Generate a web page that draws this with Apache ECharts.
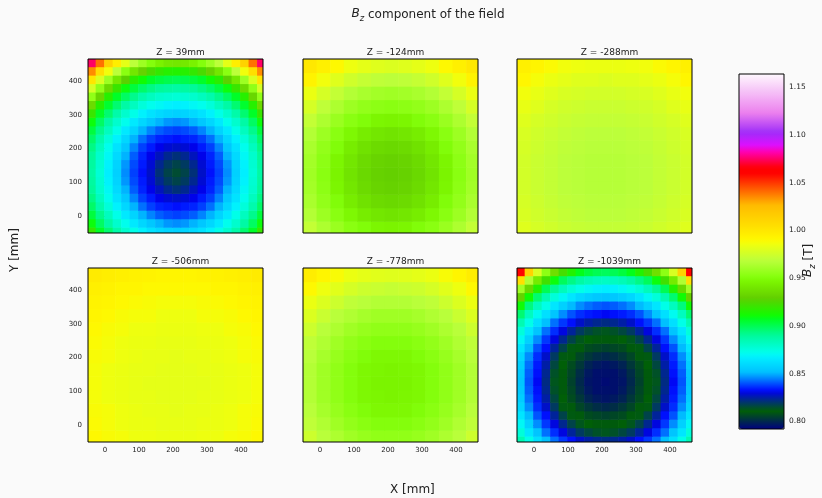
<!DOCTYPE html>
<html><head><meta charset="utf-8">
<script src="https://cdn.jsdelivr.net/npm/echarts@6/dist/echarts.min.js"></script>
<style>html,body{margin:0;padding:0;background:#fafafa}#c{width:822px;height:498px}</style>
</head><body><div id="c"></div>
<script>
// ---- data ----
const panelTitles = ['Z = 39mm', 'Z = -124mm', 'Z = -288mm', 'Z = -506mm', 'Z = -778mm', 'Z = -1039mm'];
// coarse sample grid (mm) used for the nearly uniform maps
const xCoarse = [-30, 10, 50, 90, 130, 170, 210, 250, 290, 330, 370, 410, 450];
const yCoarse = [-35, 5, 45, 85, 125, 165, 205, 245, 285, 325, 365, 405, 445];
// fine sample grid (mm) used for the strongly varying maps
const xFine = [-40, -15, 10, 35, 60, 85, 110, 135, 160, 185, 210, 235, 260, 285, 310, 335, 360, 385, 410, 435, 460];
const yFine = [-45, -20, 5, 30, 55, 80, 105, 130, 155, 180, 205, 230, 255, 280, 305, 330, 355, 380, 405, 430, 455];
const axisTicks = [0, 100, 200, 300, 400];
const colorbarTicks = [0.80, 0.85, 0.90, 0.95, 1.00, 1.05, 1.10, 1.15];
const bzMin = 0.792, bzMax = 1.164;

// rows from bottom to top, Bz in tesla
const bzZ39 = [
[0.920,0.906,0.896,0.887,0.879,0.873,0.868,0.863,0.860,0.858,0.857,0.858,0.860,0.863,0.868,0.873,0.879,0.887,0.896,0.906,0.920],
[0.910,0.898,0.888,0.879,0.872,0.865,0.859,0.854,0.850,0.847,0.846,0.847,0.850,0.854,0.859,0.865,0.872,0.879,0.888,0.898,0.910],
[0.903,0.892,0.882,0.873,0.865,0.858,0.850,0.845,0.841,0.839,0.838,0.839,0.841,0.845,0.850,0.858,0.865,0.873,0.882,0.892,0.903],
[0.897,0.886,0.876,0.868,0.859,0.850,0.843,0.838,0.835,0.834,0.833,0.834,0.835,0.838,0.843,0.850,0.859,0.868,0.876,0.886,0.897],
[0.893,0.882,0.872,0.863,0.854,0.845,0.838,0.834,0.831,0.829,0.828,0.829,0.831,0.834,0.838,0.845,0.854,0.863,0.872,0.882,0.893],
[0.890,0.879,0.870,0.860,0.850,0.841,0.835,0.831,0.827,0.823,0.821,0.823,0.827,0.831,0.835,0.841,0.850,0.860,0.870,0.879,0.890],
[0.889,0.878,0.868,0.858,0.847,0.839,0.834,0.829,0.823,0.819,0.817,0.819,0.823,0.829,0.834,0.839,0.847,0.858,0.868,0.878,0.889],
[0.888,0.877,0.867,0.857,0.846,0.838,0.833,0.828,0.821,0.817,0.815,0.817,0.821,0.828,0.833,0.838,0.846,0.857,0.867,0.877,0.888],
[0.889,0.878,0.868,0.858,0.847,0.839,0.834,0.829,0.823,0.819,0.817,0.819,0.823,0.829,0.834,0.839,0.847,0.858,0.868,0.878,0.889],
[0.890,0.879,0.870,0.860,0.850,0.841,0.835,0.831,0.827,0.823,0.821,0.823,0.827,0.831,0.835,0.841,0.850,0.860,0.870,0.879,0.890],
[0.893,0.882,0.872,0.863,0.854,0.845,0.838,0.834,0.831,0.829,0.828,0.829,0.831,0.834,0.838,0.845,0.854,0.863,0.872,0.882,0.893],
[0.897,0.886,0.876,0.868,0.859,0.850,0.843,0.838,0.835,0.834,0.833,0.834,0.835,0.838,0.843,0.850,0.859,0.868,0.876,0.886,0.897],
[0.903,0.892,0.882,0.873,0.865,0.858,0.850,0.845,0.841,0.839,0.838,0.839,0.841,0.845,0.850,0.858,0.865,0.873,0.882,0.892,0.903],
[0.910,0.898,0.888,0.879,0.872,0.865,0.859,0.854,0.850,0.847,0.846,0.847,0.850,0.854,0.859,0.865,0.872,0.879,0.888,0.898,0.910],
[0.920,0.906,0.896,0.887,0.879,0.873,0.868,0.863,0.860,0.858,0.857,0.858,0.860,0.863,0.868,0.873,0.879,0.887,0.896,0.906,0.920],
[0.935,0.916,0.905,0.896,0.888,0.882,0.876,0.872,0.870,0.868,0.867,0.868,0.870,0.872,0.876,0.882,0.888,0.896,0.905,0.916,0.935],
[0.955,0.933,0.916,0.906,0.898,0.892,0.886,0.882,0.879,0.878,0.877,0.878,0.879,0.882,0.886,0.892,0.898,0.906,0.916,0.933,0.955],
[0.977,0.955,0.935,0.920,0.910,0.903,0.897,0.893,0.890,0.889,0.888,0.889,0.890,0.893,0.897,0.903,0.910,0.920,0.935,0.955,0.977],
[1.001,0.979,0.959,0.941,0.928,0.917,0.911,0.906,0.903,0.901,0.900,0.901,0.903,0.906,0.911,0.917,0.928,0.941,0.959,0.979,1.001],
[1.035,1.005,0.986,0.969,0.953,0.940,0.931,0.924,0.919,0.916,0.915,0.916,0.919,0.924,0.931,0.940,0.953,0.969,0.986,1.005,1.035],
[1.075,1.040,1.013,0.996,0.982,0.969,0.959,0.951,0.945,0.941,0.940,0.941,0.945,0.951,0.959,0.969,0.982,0.996,1.013,1.040,1.075]
];
const bzZm124 = [
[0.971,0.964,0.958,0.953,0.950,0.947,0.946,0.947,0.950,0.953,0.958,0.964,0.971],
[0.966,0.959,0.953,0.948,0.943,0.940,0.939,0.940,0.943,0.948,0.953,0.959,0.966],
[0.963,0.956,0.950,0.943,0.938,0.935,0.934,0.935,0.938,0.943,0.950,0.956,0.963],
[0.961,0.954,0.947,0.940,0.935,0.932,0.931,0.932,0.935,0.940,0.947,0.954,0.961],
[0.960,0.953,0.946,0.939,0.934,0.931,0.930,0.931,0.934,0.939,0.946,0.953,0.960],
[0.961,0.954,0.947,0.940,0.935,0.932,0.931,0.932,0.935,0.940,0.947,0.954,0.961],
[0.963,0.956,0.950,0.943,0.938,0.935,0.934,0.935,0.938,0.943,0.950,0.956,0.963],
[0.966,0.959,0.953,0.948,0.943,0.940,0.939,0.940,0.943,0.948,0.953,0.959,0.966],
[0.971,0.964,0.958,0.953,0.950,0.947,0.946,0.947,0.950,0.953,0.958,0.964,0.971],
[0.977,0.970,0.964,0.959,0.956,0.954,0.953,0.954,0.956,0.959,0.964,0.970,0.977],
[0.984,0.977,0.971,0.966,0.963,0.961,0.960,0.961,0.963,0.966,0.971,0.977,0.984],
[0.993,0.986,0.980,0.975,0.972,0.970,0.969,0.970,0.972,0.975,0.980,0.986,0.993],
[1.000,0.995,0.990,0.985,0.982,0.980,0.979,0.980,0.982,0.985,0.990,0.995,1.000]
];
const bzZm288 = [
[0.980,0.977,0.975,0.973,0.972,0.971,0.971,0.971,0.972,0.973,0.975,0.977,0.980],
[0.978,0.975,0.973,0.971,0.970,0.969,0.969,0.969,0.970,0.971,0.973,0.975,0.978],
[0.977,0.974,0.972,0.970,0.969,0.968,0.968,0.968,0.969,0.970,0.972,0.974,0.977],
[0.976,0.973,0.971,0.969,0.968,0.967,0.967,0.967,0.968,0.969,0.971,0.973,0.976],
[0.976,0.973,0.971,0.969,0.968,0.967,0.967,0.967,0.968,0.969,0.971,0.973,0.976],
[0.976,0.973,0.971,0.969,0.968,0.967,0.967,0.967,0.968,0.969,0.971,0.973,0.976],
[0.977,0.974,0.972,0.970,0.969,0.968,0.968,0.968,0.969,0.970,0.972,0.974,0.977],
[0.978,0.975,0.973,0.971,0.970,0.969,0.969,0.969,0.970,0.971,0.973,0.975,0.978],
[0.980,0.977,0.975,0.973,0.972,0.971,0.971,0.971,0.972,0.973,0.975,0.977,0.980],
[0.983,0.980,0.977,0.975,0.974,0.973,0.973,0.973,0.974,0.975,0.977,0.980,0.983],
[0.986,0.983,0.980,0.978,0.977,0.976,0.976,0.976,0.977,0.978,0.980,0.983,0.986],
[0.991,0.987,0.984,0.982,0.980,0.980,0.979,0.980,0.980,0.982,0.984,0.987,0.991],
[0.995,0.992,0.989,0.986,0.985,0.984,0.984,0.984,0.985,0.986,0.989,0.992,0.995]
];
const bzZm506 = [
[0.990,0.988,0.987,0.985,0.985,0.984,0.984,0.984,0.985,0.985,0.987,0.988,0.990],
[0.989,0.987,0.985,0.984,0.984,0.983,0.983,0.983,0.984,0.984,0.985,0.987,0.989],
[0.988,0.987,0.985,0.984,0.983,0.983,0.982,0.983,0.983,0.984,0.985,0.987,0.988],
[0.987,0.985,0.984,0.983,0.983,0.982,0.982,0.982,0.983,0.983,0.984,0.985,0.987],
[0.987,0.985,0.984,0.983,0.982,0.982,0.982,0.982,0.982,0.983,0.984,0.985,0.987],
[0.987,0.985,0.984,0.983,0.983,0.982,0.982,0.982,0.983,0.983,0.984,0.985,0.987],
[0.988,0.987,0.985,0.984,0.983,0.983,0.982,0.983,0.983,0.984,0.985,0.987,0.988],
[0.989,0.987,0.985,0.984,0.984,0.983,0.983,0.983,0.984,0.984,0.985,0.987,0.989],
[0.990,0.988,0.987,0.985,0.985,0.984,0.984,0.984,0.985,0.985,0.987,0.988,0.990],
[0.992,0.990,0.988,0.987,0.987,0.985,0.985,0.985,0.987,0.987,0.988,0.990,0.992],
[0.993,0.992,0.990,0.989,0.988,0.987,0.987,0.987,0.988,0.989,0.990,0.992,0.993],
[0.995,0.994,0.992,0.992,0.990,0.990,0.990,0.990,0.990,0.992,0.992,0.994,0.995],
[0.998,0.996,0.995,0.994,0.993,0.992,0.992,0.992,0.993,0.994,0.995,0.996,0.998]
];
const bzZm778 = [
[0.974,0.968,0.964,0.960,0.957,0.955,0.955,0.955,0.957,0.960,0.964,0.968,0.974],
[0.970,0.965,0.960,0.956,0.953,0.951,0.951,0.951,0.953,0.956,0.960,0.965,0.970],
[0.968,0.962,0.957,0.953,0.950,0.948,0.948,0.948,0.950,0.953,0.957,0.962,0.968],
[0.966,0.960,0.955,0.951,0.948,0.947,0.946,0.947,0.948,0.951,0.955,0.960,0.966],
[0.966,0.960,0.955,0.951,0.948,0.946,0.946,0.946,0.948,0.951,0.955,0.960,0.966],
[0.966,0.960,0.955,0.951,0.948,0.947,0.946,0.947,0.948,0.951,0.955,0.960,0.966],
[0.968,0.962,0.957,0.953,0.950,0.948,0.948,0.948,0.950,0.953,0.957,0.962,0.968],
[0.970,0.965,0.960,0.956,0.953,0.951,0.951,0.951,0.953,0.956,0.960,0.965,0.970],
[0.974,0.968,0.964,0.960,0.957,0.955,0.955,0.955,0.957,0.960,0.964,0.968,0.974],
[0.979,0.973,0.968,0.965,0.962,0.960,0.960,0.960,0.962,0.965,0.968,0.973,0.979],
[0.984,0.979,0.974,0.970,0.968,0.966,0.966,0.966,0.968,0.970,0.974,0.979,0.984],
[0.990,0.985,0.981,0.977,0.974,0.973,0.972,0.973,0.974,0.977,0.981,0.985,0.990],
[0.997,0.992,0.988,0.984,0.982,0.981,0.980,0.981,0.982,0.984,0.988,0.992,0.997]
];
const bzZm1039 = [
[0.885,0.873,0.862,0.852,0.843,0.837,0.833,0.828,0.825,0.823,0.822,0.823,0.825,0.828,0.833,0.837,0.843,0.852,0.862,0.873,0.885],
[0.876,0.864,0.853,0.843,0.836,0.830,0.824,0.819,0.816,0.814,0.813,0.814,0.816,0.819,0.824,0.830,0.836,0.843,0.853,0.864,0.876],
[0.870,0.857,0.846,0.837,0.830,0.823,0.817,0.813,0.811,0.810,0.810,0.810,0.811,0.813,0.817,0.823,0.830,0.837,0.846,0.857,0.870],
[0.864,0.851,0.840,0.833,0.824,0.817,0.812,0.810,0.807,0.806,0.805,0.806,0.807,0.810,0.812,0.817,0.824,0.833,0.840,0.851,0.864],
[0.859,0.846,0.836,0.828,0.819,0.812,0.810,0.806,0.803,0.801,0.800,0.801,0.803,0.806,0.810,0.812,0.819,0.828,0.836,0.846,0.859],
[0.856,0.843,0.834,0.825,0.816,0.811,0.807,0.803,0.799,0.797,0.796,0.797,0.799,0.803,0.807,0.811,0.816,0.825,0.834,0.843,0.856],
[0.854,0.841,0.833,0.823,0.814,0.810,0.806,0.801,0.797,0.795,0.795,0.795,0.797,0.801,0.806,0.810,0.814,0.823,0.833,0.841,0.854],
[0.853,0.840,0.832,0.822,0.813,0.810,0.805,0.800,0.796,0.795,0.794,0.795,0.796,0.800,0.805,0.810,0.813,0.822,0.832,0.840,0.853],
[0.854,0.841,0.833,0.823,0.814,0.810,0.806,0.801,0.797,0.795,0.795,0.795,0.797,0.801,0.806,0.810,0.814,0.823,0.833,0.841,0.854],
[0.856,0.843,0.834,0.825,0.816,0.811,0.807,0.803,0.799,0.797,0.796,0.797,0.799,0.803,0.807,0.811,0.816,0.825,0.834,0.843,0.856],
[0.859,0.846,0.836,0.828,0.819,0.812,0.810,0.806,0.803,0.801,0.800,0.801,0.803,0.806,0.810,0.812,0.819,0.828,0.836,0.846,0.859],
[0.864,0.851,0.840,0.833,0.824,0.817,0.812,0.810,0.807,0.806,0.805,0.806,0.807,0.810,0.812,0.817,0.824,0.833,0.840,0.851,0.864],
[0.870,0.857,0.846,0.837,0.830,0.823,0.817,0.813,0.811,0.810,0.810,0.810,0.811,0.813,0.817,0.823,0.830,0.837,0.846,0.857,0.870],
[0.876,0.864,0.853,0.843,0.836,0.830,0.824,0.819,0.816,0.814,0.813,0.814,0.816,0.819,0.824,0.830,0.836,0.843,0.853,0.864,0.876],
[0.885,0.873,0.862,0.852,0.843,0.837,0.833,0.828,0.825,0.823,0.822,0.823,0.825,0.828,0.833,0.837,0.843,0.852,0.862,0.873,0.885],
[0.896,0.882,0.871,0.862,0.853,0.846,0.840,0.836,0.834,0.833,0.832,0.833,0.834,0.836,0.840,0.846,0.853,0.862,0.871,0.882,0.896],
[0.911,0.894,0.882,0.873,0.864,0.857,0.851,0.846,0.843,0.841,0.840,0.841,0.843,0.846,0.851,0.857,0.864,0.873,0.882,0.894,0.911],
[0.931,0.911,0.896,0.885,0.876,0.870,0.864,0.859,0.856,0.854,0.853,0.854,0.856,0.859,0.864,0.870,0.876,0.885,0.896,0.911,0.931],
[0.960,0.934,0.915,0.900,0.891,0.883,0.877,0.873,0.870,0.868,0.867,0.868,0.870,0.873,0.877,0.883,0.891,0.900,0.915,0.934,0.960],
[1.005,0.965,0.942,0.922,0.910,0.899,0.893,0.888,0.884,0.882,0.881,0.882,0.884,0.888,0.893,0.899,0.910,0.922,0.942,0.965,1.005],
[1.060,1.013,0.978,0.954,0.937,0.923,0.915,0.908,0.903,0.900,0.899,0.900,0.903,0.908,0.915,0.923,0.937,0.954,0.978,1.013,1.060]
];
const panels = [bzZ39, bzZm124, bzZm288, bzZm506, bzZm778, bzZm1039];
const panelGridIsFine = [true, false, false, false, false, true];

// ---- colormap (gist_ncar-like) ----
const ncar = {
 r: [[0,0],[0.3098,0],[0.3725,0.3993],[0.4235,0.5003],[0.5333,1],[0.78,1],[0.835,0.6218],[0.89,0.9235],[1,0.9961]],
 g: [[0,0],[0.051,0.3722],[0.1059,0],[0.1569,0.7202],[0.1608,0.7537],[0.1647,0.7752],[0.2157,1],[0.2588,0.9804],[0.2706,0.9804],[0.3176,1],[0.3686,0.8081],[0.4275,1],[0.5216,1],[0.6314,0.7292],[0.6863,0.2796],[0.72,0],[0.78,0],[0.835,0.1753],[0.89,0.5],[1,0.9725]],
 b: [[0,0.502],[0.051,0.0222],[0.1098,1],[0.2039,1],[0.2627,0.6145],[0.3216,0],[0.4157,0],[0.4745,0.2342],[0.5333,0],[0.735,0],[0.80,1],[0.89,0.9341],[1,0.9961]]
};
function seg(arr, t) {
  for (let i = 1; i < arr.length; i++) {
    if (t <= arr[i][0]) {
      const a = arr[i-1], b = arr[i];
      return a[1] + (b[1]-a[1]) * (t-a[0]) / (b[0]-a[0]);
    }
  }
  return arr[arr.length-1][1];
}
function hex(v){ const s = Math.round(Math.max(0,Math.min(1,v))*255).toString(16); return s.length<2?'0'+s:s; }
const cmapColors = [];
for (let i = 0; i <= 256; i++) { const t = i/256; cmapColors.push('#'+hex(seg(ncar.r,t))+hex(seg(ncar.g,t))+hex(seg(ncar.b,t))); }

// ---- layout ----
const colLeft = [88, 303, 517];
const rowTop = [59, 268];
const pw = 175, ph = 174;
const font = 'DejaVu Sans';
const txt = '#222';

function makeRenderer(cw, ch) {
  return function (params, api) {
    const x = api.value(0), y = api.value(1);
    const p0 = api.coord([x - cw/2, y + ch/2]);
    const p1 = api.coord([x + cw/2, y - ch/2]);
    return {type: 'rect', shape: {x: p0[0], y: p0[1], width: p1[0]-p0[0]+0.6, height: p1[1]-p0[1]+0.6},
      style: {fill: api.visual('color')}};
  };
}

const grids = [], xAxes = [], yAxes = [], series = [], titles = [];
for (let k = 0; k < 6; k++) {
  const c = k % 3, r = Math.floor(k / 3);
  grids.push({left: colLeft[c], top: rowTop[r], width: pw, height: ph, show: true, borderColor: '#000', borderWidth: 1, backgroundColor: 'transparent', z: 10});
  xAxes.push({gridIndex: k, type: 'value', min: -50, max: 465,
    axisLine: {show: false}, splitLine: {show: false},
    axisTick: {show: true, length: 3.5, customValues: axisTicks, lineStyle: {color: '#000', width: 1}},
    axisLabel: {show: r === 1, customValues: axisTicks, fontSize: 7, fontFamily: font, color: txt, margin: 5}});
  yAxes.push({gridIndex: k, type: 'value', min: -50, max: 465,
    axisLine: {show: false}, splitLine: {show: false},
    axisTick: {show: true, length: 3.5, customValues: axisTicks, lineStyle: {color: '#000', width: 1}},
    axisLabel: {show: c === 0, customValues: axisTicks, fontSize: 7, fontFamily: font, color: txt, margin: 6}});
  const xs = panelGridIsFine[k] ? xFine : xCoarse;
  const ys = panelGridIsFine[k] ? yFine : yCoarse;
  const cw = xs[1] - xs[0], ch = ys[1] - ys[0];
  const data = [];
  const vals = panels[k];
  for (let j = 0; j < ys.length; j++)
    for (let i = 0; i < xs.length; i++)
      data.push([xs[i], ys[j], vals[j][i]]);
  series.push({type: 'custom', xAxisIndex: k, yAxisIndex: k, clip: true, z: 1, silent: true,
    encode: {x: 0, y: 1}, renderItem: makeRenderer(cw, ch), data: data});
  titles.push({text: panelTitles[k], left: colLeft[c] + pw/2, top: rowTop[r] - 16, textAlign: 'center',
    textStyle: {fontSize: 9, fontWeight: 'normal', fontFamily: font, color: txt}});
}
titles.push({text: '{b|B}{s|z}{n| component of the field}', left: 423, top: 3, textAlign: 'center',
  textStyle: {fontSize: 12, fontWeight: 'normal', fontFamily: font, color: txt,
    rich: {b: {fontSize: 12, fontStyle: 'italic', fontFamily: font, color: txt, verticalAlign: 'top'},
           s: {fontSize: 8.5, fontStyle: 'italic', fontFamily: font, color: txt, verticalAlign: 'top', padding: [6,0,0,0]},
           n: {fontSize: 12, fontFamily: font, color: txt, verticalAlign: 'top', padding: [1,0,0,0]}}}});

// colorbar axis
grids.push({left: 739, top: 74, width: 45, height: 355, show: true, borderColor: '#000', borderWidth: 1, backgroundColor: 'transparent', z: 10});
xAxes.push({gridIndex: 6, type: 'value', min: 0, max: 1, show: false});
yAxes.push({gridIndex: 6, type: 'value', position: 'right', min: bzMin, max: bzMax,
  axisLine: {show: false}, splitLine: {show: false},
  axisTick: {show: true, length: 3.5, customValues: colorbarTicks, lineStyle: {color: '#000'}},
  axisLabel: {customValues: colorbarTicks, fontSize: 7.5, fontFamily: font, color: txt, margin: 5,
    formatter: v => v.toFixed(2)}});

const option = {
  backgroundColor: '#fafafa',
  animation: false,
  title: titles,
  grid: grids, xAxis: xAxes, yAxis: yAxes,
  visualMap: {type: 'continuous', min: bzMin, max: bzMax, dimension: 2, seriesIndex: [0,1,2,3,4,5],
    inRange: {color: cmapColors}, left: 739, top: 74, itemWidth: 45, itemHeight: 355, padding: 0,
    calculable: false, text: null, hoverLink: false, orient: 'vertical'},
  graphic: [
    {type: 'text', left: 390, top: 484, style: {text: 'X [mm]', fontSize: 12, fontFamily: font, fill: txt}},
    {type: 'text', x: 9, y: 272, rotation: Math.PI/2, style: {text: 'Y [mm]', fontSize: 12, fontFamily: font, fill: txt}},
    {type: 'text', x: 802, y: 277, rotation: Math.PI/2, style: {
      text: '{b|B}{s|z}{n| [T]}', fontSize: 12, fontFamily: font, fill: txt,
      rich: {b: {fontSize: 12, fontStyle: 'italic', fontFamily: font, fill: txt, verticalAlign: 'top'},
             s: {fontSize: 8.5, fontStyle: 'italic', fontFamily: font, fill: txt, verticalAlign: 'top', padding: [6,0,0,0]},
             n: {fontSize: 12, fontFamily: font, fill: txt, verticalAlign: 'top', padding: [1,0,0,0]}}}}
  ],
  series: series
};
const chart = echarts.init(document.getElementById('c'), null, {renderer: 'canvas'});
chart.setOption(option);
</script>
</body></html>
